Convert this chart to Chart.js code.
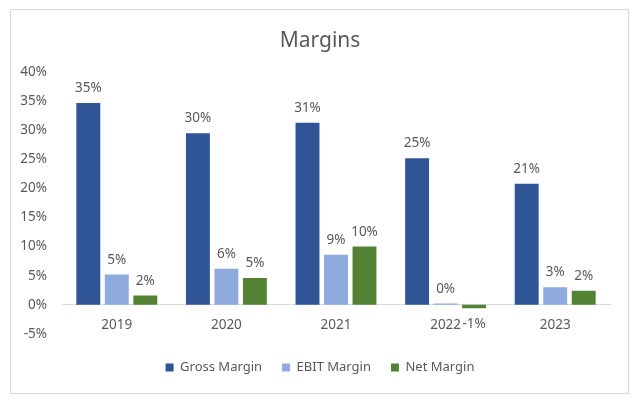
<!DOCTYPE html>
<html>
<head>
<meta charset="utf-8">
<script src="https://cdn.jsdelivr.net/npm/chart.js@4/dist/chart.umd.min.js"></script>
<style>
  html, body { margin: 0; padding: 0; background: #fff; }
  #wrap { position: relative; width: 640px; height: 404px; }
</style>
</head>
<body>
<div id="wrap"><canvas id="marginsChart" width="640" height="404"></canvas></div>
<script>
// Years and margins (%)
const years = ['2019', '2020', '2021', '2022', '2023'];
const grossMargin = [34.7, 29.5, 31.3, 25.2, 20.8];
const ebitMargin = [5.2, 6.2, 8.6, 0.2, 3.0];
const netMargin = [1.6, 4.6, 10.0, -0.6, 2.4];
const yTicks = [-5, 0, 5, 10, 15, 20, 25, 30, 35, 40];

const FONT = '"Noto Sans", sans-serif';
const GREY = '#595959';

// frame around the chart like Excel
const framePlugin = {
    id: 'frame',
    beforeDraw(chart) {
        const ctx = chart.ctx;
        ctx.save();
        ctx.fillStyle = '#fff';
        ctx.fillRect(0, 0, chart.width, chart.height);
        ctx.strokeStyle = '#d9d9d9';
        ctx.lineWidth = 1;
        ctx.strokeRect(10.5, 9.5, 618, 384);
        ctx.restore();
    }
};

// value labels above (or below for negatives) each bar
const labelPlugin = {
    id: 'barLabels',
    afterDatasetsDraw(chart) {
        const ctx = chart.ctx;
        ctx.save();
        ctx.font = '13.5px ' + FONT;
        ctx.fillStyle = GREY;
        ctx.textAlign = 'center';
        chart.data.datasets.forEach((ds, i) => {
            chart.getDatasetMeta(i).data.forEach((bar, j) => {
                const v = ds.data[j];
                const txt = Math.round(v) + '%';
                if (v >= 0) {
                    ctx.textBaseline = 'bottom';
                    ctx.fillText(txt, bar.x, bar.y - 8);
                } else {
                    ctx.textBaseline = 'top';
                    ctx.fillText(txt, bar.x, bar.y + 9);
                }
            });
        });
        ctx.restore();
    }
};

const ctx = document.getElementById('marginsChart').getContext('2d');
new Chart(ctx, {
    type: 'bar',
    data: {
        labels: years,
        datasets: [
            { label: 'Gross Margin', data: grossMargin, backgroundColor: '#2F5597' },
            { label: 'EBIT Margin', data: ebitMargin, backgroundColor: '#8FAADC' },
            { label: 'Net Margin', data: netMargin, backgroundColor: '#548235' }
        ]
    },
    options: {
        responsive: false,
        animation: false,
        devicePixelRatio: 1,
        categoryPercentage: 0.78,
        barPercentage: 0.84,
        layout: { padding: { left: 0, right: 0, top: 0, bottom: 20 } },
        plugins: {
            title: {
                display: true,
                text: 'Margins',
                color: GREY,
                font: { family: FONT, size: 21, weight: 'normal' },
                padding: { top: 28, bottom: 19 }
            },
            legend: {
                display: true,
                position: 'bottom',
                title: { display: true, text: ' ', font: { size: 1 }, padding: { top: 0, bottom: 6 } },
                labels: {
                    color: GREY,
                    font: { family: FONT, size: 13 },
                    boxWidth: 8,
                    boxHeight: 8,
                    padding: 20
                }
            },
            tooltip: { enabled: false }
        },
        scales: {
            x: {
                position: { y: 0 },
                grid: { display: false },
                border: { display: true, color: '#d9d9d9', width: 1 },
                ticks: { color: GREY, font: { family: FONT, size: 13.5 }, padding: 4 }
            },
            y: {
                min: -5,
                max: 40,
                afterFit: s => { s.width = 62; },
                afterBuildTicks: s => { s.ticks = yTicks.map(v => ({ value: v })); },
                grid: { display: false, drawTicks: false },
                border: { display: false },
                ticks: {
                    color: GREY,
                    font: { family: FONT, size: 13.5 },
                    padding: 15,
                    callback: v => v + '%'
                }
            },
            // empty right-hand space so the plot ends where Excel's does
            yRight: {
                position: 'right',
                min: -5,
                max: 40,
                afterFit: s => { s.width = 30; },
                grid: { display: false },
                border: { display: false },
                ticks: { display: false }
            }
        }
    },
    plugins: [framePlugin, labelPlugin]
});
</script>
</body>
</html>
